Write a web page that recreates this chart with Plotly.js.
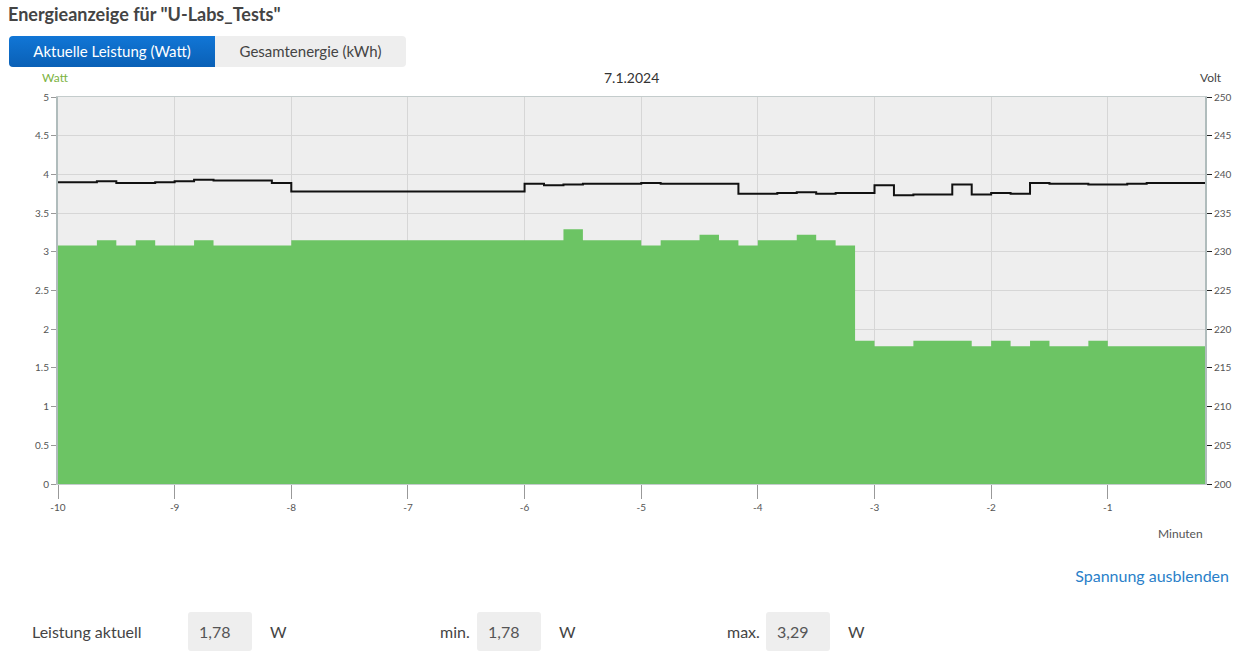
<!DOCTYPE html>
<html>
<head>
<meta charset="utf-8">
<script src="https://cdn.plot.ly/plotly-3.0.1.min.js"></script>
<style>
  html, body { margin:0; padding:0; background:#fff; width:1238px; height:657px; overflow:hidden; font-family: Lato, "Open Sans", sans-serif; }
  #chart { position:absolute; left:0; top:0; width:1238px; height:560px; }
  .abs { position:absolute; white-space:nowrap; }
  #title { left:8px; top:2px; font-size:18px; font-weight:bold; color:#444; line-height:24px; }
  .btn { top:36px; height:31px; line-height:31px; font-size:15px; text-align:center; }
  #b1 { left:9px; width:206px; color:#fff; background:linear-gradient(#1176d6,#0a60b6); border-radius:4px 0 0 4px; }
  #b2 { left:215px; width:191px; color:#444; background:#eeeeee; border-radius:0 4px 4px 0; }
  #link { right:9px; top:565px; font-size:16px; color:#2a7fc9; line-height:22px; }
  .lbl { top:621px; font-size:16px; color:#444; line-height:22px; }
  .box { top:612px; height:39px; width:64px; background:#eeeeee; border-radius:3px; font-size:16px; color:#555; line-height:39px; box-sizing:border-box; padding-left:11px; }
</style>
</head>
<body>
<div id="chart"></div>
<div id="title" class="abs">Energieanzeige für "U-Labs_Tests"</div>
<div id="b1" class="abs btn">Aktuelle Leistung (Watt)</div>
<div id="b2" class="abs btn">Gesamtenergie (kWh)</div>
<div id="link" class="abs">Spannung ausblenden</div>
<div class="abs lbl" style="left:32px;">Leistung aktuell</div>
<div class="abs box" style="left:188px;">1,78</div>
<div class="abs lbl" style="left:270px;">W</div>
<div class="abs lbl" style="left:440px;">min.</div>
<div class="abs box" style="left:477px;">1,78</div>
<div class="abs lbl" style="left:559px;">W</div>
<div class="abs lbl" style="left:727px;">max.</div>
<div class="abs box" style="left:766px;">3,29</div>
<div class="abs lbl" style="left:848px;">W</div>
<script>
// seconds before now for each sample (10 s steps)
const secondsAgo = [600,590,580,570,560,550,540,530,520,510,500,490,480,470,460,450,440,430,420,410,
                    400,390,380,370,360,350,340,330,320,310,300,290,280,270,260,250,240,230,220,210,
                    200,190,180,170,160,150,140,130,120,110,100,90,80,70,60,50,40,30,20,10];
// power in Watt
const powerW = [3.08,3.08,3.15,3.08,3.15,3.08,3.08,3.15,3.08,3.08,3.08,3.08,
                3.15,3.15,3.15,3.15,3.15,3.15,3.15,3.15,3.15,3.15,3.15,3.15,3.15,3.15,
                3.29,3.15,3.15,3.15,3.08,3.15,3.15,3.22,3.15,3.08,3.15,3.15,3.22,3.15,3.08,
                1.85,1.78,1.78,1.85,1.85,1.85,1.78,1.85,1.78,1.85,1.78,1.78,1.85,
                1.78,1.78,1.78,1.78,1.78,1.78];
// voltage in Volt
const voltageV = [239.0,239.0,239.1,238.9,238.9,239.0,239.1,239.3,239.2,239.2,239.2,238.9,
                  237.8,237.8,237.8,237.8,237.8,237.8,237.8,237.8,237.8,237.8,237.8,237.8,
                  238.8,238.6,238.7,238.8,238.8,238.8,238.9,238.8,238.8,238.8,238.8,
                  237.5,237.5,237.6,237.7,237.5,237.6,237.6,
                  238.6,237.3,237.4,237.4,238.7,237.4,237.6,237.5,238.9,238.8,238.8,238.7,238.7,238.8,
                  238.9,238.9,238.9,238.9];
const xTickVals = [-10,-9,-8,-7,-6,-5,-4,-3,-2,-1];
const xTickText = ["-10","-9","-8","-7","-6","-5","-4","-3","-2","-1"];
const dateLabel = "7.1.2024";

const minutes = secondsAgo.map(s => -s/60);

const traces = [
  { x: minutes, y: powerW, type:'scatter', mode:'lines', line:{shape:'hv', width:0, color:'#6cc464'},
    fill:'tozeroy', fillcolor:'#6cc464', hoverinfo:'skip', yaxis:'y' },
  { x: minutes, y: voltageV, type:'scatter', mode:'lines', line:{shape:'hv', width:2, color:'#111'},
    hoverinfo:'skip', yaxis:'y2' }
];

const tickFont = {family:'Lato, "Open Sans", sans-serif', size:10, color:'#555'};
const layout = {
  width:1238, height:560,
  margin:{l:58, r:33, t:97, b:76},
  paper_bgcolor:'rgba(0,0,0,0)', plot_bgcolor:'#eeeeee',
  showlegend:false,
  xaxis:{ range:[-10, minutes[minutes.length-1]], tickvals:xTickVals, ticktext:xTickText,
          ticks:'outside', ticklen:14, tickcolor:'#999', tickwidth:1,
          showgrid:true, gridcolor:'#d6d6d6', gridwidth:1, zeroline:false,
          showline:true, linecolor:'#c4cccc', linewidth:1, mirror:true,
          tickfont:tickFont, fixedrange:true },
  yaxis:{ range:[0,5], dtick:0.5, tick0:0, ticks:'outside', ticklen:5, tickcolor:'#999',
          showgrid:true, gridcolor:'#d6d6d6', zeroline:false,
          showline:true, linecolor:'#b0bcbc', linewidth:2,
          tickfont:tickFont, fixedrange:true },
  yaxis2:{ range:[200,250], dtick:5, tick0:200, overlaying:'y', side:'right',
           ticks:'outside', ticklen:5, tickcolor:'#222', showgrid:false, zeroline:false,
           showline:true, linecolor:'#b0bcbc', linewidth:2,
           tickfont:tickFont, fixedrange:true },
  annotations:[
    {text:dateLabel, xref:'paper', yref:'paper', x:0.5, y:1+20/387, xanchor:'center', yanchor:'middle',
     showarrow:false, font:{family:'Lato, sans-serif', size:14, color:'#333'}},
    {text:'Watt', xref:'paper', yref:'paper', x:-18/1147, y:1+20/387, xanchor:'left', yanchor:'middle',
     showarrow:false, font:{family:'Lato, sans-serif', size:12, color:'#7cb342'}},
    {text:'Volt', xref:'paper', yref:'paper', x:1+19/1147, y:1+20/387, xanchor:'right', yanchor:'middle',
     showarrow:false, font:{family:'Lato, sans-serif', size:12, color:'#444'}},
    {text:'Minuten', xref:'paper', yref:'paper', x:1, y:-49/387, xanchor:'right', yanchor:'middle',
     showarrow:false, font:{family:'Lato, sans-serif', size:12, color:'#555'}}
  ]
};
Plotly.newPlot('chart', traces, layout, {displayModeBar:false, staticPlot:true});
</script>
</body>
</html>
